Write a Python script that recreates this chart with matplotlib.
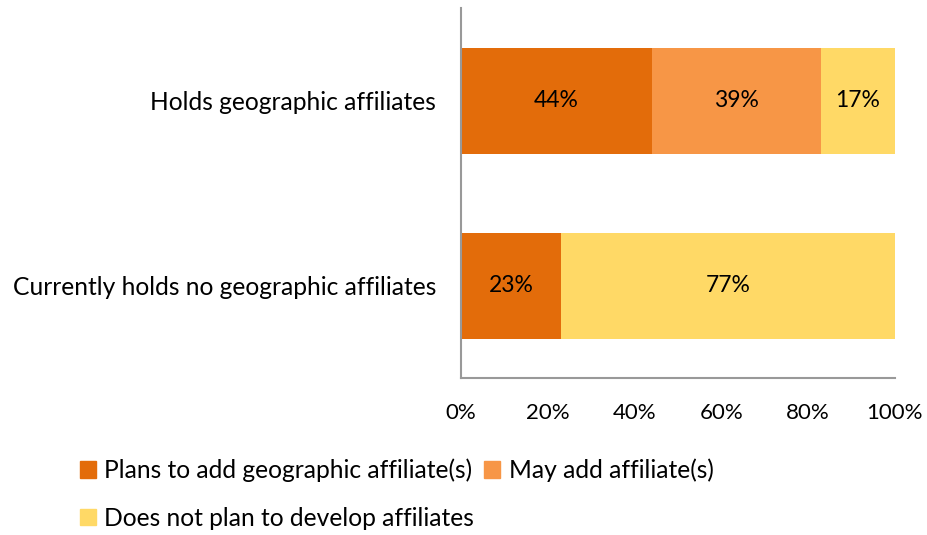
import matplotlib.pyplot as plt
from matplotlib.patches import Patch

plt.rcParams['font.family'] = ['Lato', 'DejaVu Sans']

categories = ['Currently holds no geographic affiliates', 'Holds geographic affiliates']
plans = [23, 44]
may_add = [0, 39]
no_plan = [77, 17]
series_names = ['Plans to add geographic affiliate(s)', 'May add affiliate(s)',
                'Does not plan to develop affiliates']
colors = ['#E36C0A', '#F79646', '#FFD966']
ticks = [0, 20, 40, 60, 80, 100]

fig = plt.figure(figsize=(9.28, 5.35), dpi=100)
ax = fig.add_axes([0.497, 0.293, 0.467, 0.692])

y = range(len(categories))
left = [0, 0]
for vals, col in zip([plans, may_add, no_plan], colors):
    bars = ax.barh(y, vals, left=left, height=0.573, color=col, edgecolor='none')
    for b, v in zip(bars, vals):
        if v > 0:
            ax.text(b.get_x() + b.get_width() / 2, b.get_y() + b.get_height() / 2,
                    f'{v}%', ha='center', va='center', fontsize=16.5, color='black')
    left = [l + v for l, v in zip(left, vals)]

ax.set_xlim(0, 100)
ax.set_ylim(-0.5, 1.5)
ax.set_yticks(list(y))
ax.set_yticklabels(categories, fontsize=17.7)
ax.set_xticks(ticks)
ax.set_xticklabels([f'{t}%' for t in ticks], fontsize=16)
ax.tick_params(length=0)
ax.tick_params(axis='x', pad=18)
ax.tick_params(axis='y', pad=18)
for s in ['top', 'right']:
    ax.spines[s].set_visible(False)
for s in ['left', 'bottom']:
    ax.spines[s].set_color('#999999')
    ax.spines[s].set_linewidth(1.5)

handles = [Patch(color=c) for c in colors]
# order so column-major fill gives Excel-like flow
order = [0, 2, 1]
fig.legend([handles[i] for i in order], [series_names[i] for i in order],
           loc='upper left', bbox_to_anchor=(0.086, 0.143), ncol=2, frameon=False,
           fontsize=17.7, handlelength=0.65, handleheight=0.65, handletextpad=0.35,
           columnspacing=0.4, labelspacing=1.0, borderaxespad=0, borderpad=0)

fig.savefig('out.png', dpi=100)
